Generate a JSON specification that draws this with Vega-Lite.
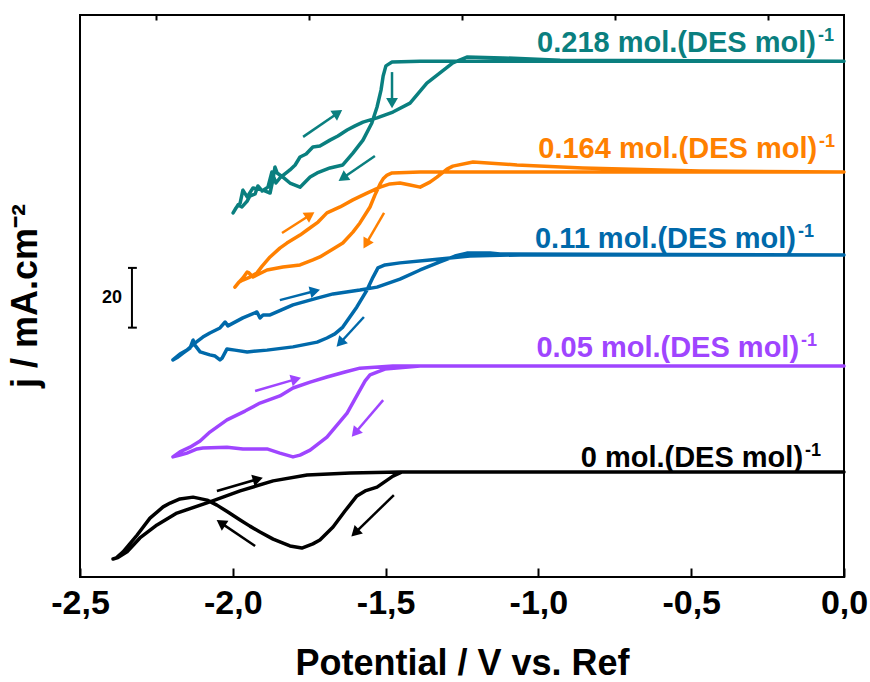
{
  "$schema": "https://vega.github.io/schema/vega-lite/v6.json",
  "width": 764,
  "height": 562,
  "autosize": {"type": "none"},
  "padding": {"left": 80, "top": 15, "right": 26, "bottom": 105},
  "background": "white",
  "config": {
    "view": {"stroke": "#000000", "strokeWidth": 2},
    "font": "Liberation Sans"
  },
  "title": {
    "text": "j / mA.cm⁻²",
    "orient": "left",
    "anchor": "middle",
    "frame": "group",
    "offset": 6,
    "font": "Liberation Sans",
    "fontWeight": "bold",
    "fontSize": 36,
    "color": "#000000"
  },
  "datasets": {
    "curves": [
      {"s": "0", "V": 0, "j": 35.5}, {"s": "0", "V": -0.798, "j": 35.5}, {"s": "0", "V": -1.289, "j": 35.5}, {"s": "0", "V": -1.446, "j": 35.5},
      {"s": "0", "V": -1.476, "j": 34.1}, {"s": "0", "V": -1.528, "j": 30.4}, {"s": "0", "V": -1.567, "j": 29.1}, {"s": "0", "V": -1.594, "j": 27.4},
      {"s": "0", "V": -1.633, "j": 22.3}, {"s": "0", "V": -1.672, "j": 16.9}, {"s": "0", "V": -1.715, "j": 12.5}, {"s": "0", "V": -1.738, "j": 11.2},
      {"s": "0", "V": -1.774, "j": 9.8}, {"s": "0", "V": -1.813, "j": 10.5}, {"s": "0", "V": -1.868, "j": 12.8}, {"s": "0", "V": -1.911, "j": 15.2},
      {"s": "0", "V": -1.944, "j": 17.2}, {"s": "0", "V": -1.976, "j": 19.3}, {"s": "0", "V": -2.016, "j": 22.0}, {"s": "0", "V": -2.052, "j": 24.3},
      {"s": "0", "V": -2.084, "j": 26.0}, {"s": "0", "V": -2.13, "j": 27.0}, {"s": "0", "V": -2.173, "j": 26.4}, {"s": "0", "V": -2.205, "j": 25.0},
      {"s": "0", "V": -2.228, "j": 23.7}, {"s": "0", "V": -2.271, "j": 19.9}, {"s": "0", "V": -2.313, "j": 14.2}, {"s": "0", "V": -2.359, "j": 8.5},
      {"s": "0", "V": -2.382, "j": 6.4}, {"s": "0", "V": -2.392, "j": 6.1}, {"s": "0", "V": -2.376, "j": 6.6}, {"s": "0", "V": -2.346, "j": 8.5},
      {"s": "0", "V": -2.304, "j": 13.2}, {"s": "0", "V": -2.248, "j": 17.6}, {"s": "0", "V": -2.183, "j": 21.6}, {"s": "0", "V": -2.075, "j": 25.4},
      {"s": "0", "V": -1.976, "j": 29.1}, {"s": "0", "V": -1.868, "j": 32.5}, {"s": "0", "V": -1.757, "j": 34.5}, {"s": "0", "V": -1.616, "j": 35.2},
      {"s": "0", "V": -1.453, "j": 35.5}, {"s": "0", "V": 0, "j": 35.5},

      {"s": "0.05", "V": 0, "j": 71.3}, {"s": "0.05", "V": -1.387, "j": 71.3}, {"s": "0.05", "V": -1.502, "j": 70.3}, {"s": "0.05", "V": -1.528, "j": 69.3},
      {"s": "0.05", "V": -1.551, "j": 68.3}, {"s": "0.05", "V": -1.567, "j": 66.3}, {"s": "0.05", "V": -1.584, "j": 63.2}, {"s": "0.05", "V": -1.626, "j": 55.4},
      {"s": "0.05", "V": -1.692, "j": 47.3}, {"s": "0.05", "V": -1.747, "j": 42.9}, {"s": "0.05", "V": -1.78, "j": 41.2}, {"s": "0.05", "V": -1.803, "j": 40.6},
      {"s": "0.05", "V": -1.846, "j": 41.9}, {"s": "0.05", "V": -1.888, "j": 43.3}, {"s": "0.05", "V": -1.967, "j": 43.3}, {"s": "0.05", "V": -2.019, "j": 43.9},
      {"s": "0.05", "V": -2.098, "j": 43.6}, {"s": "0.05", "V": -2.117, "j": 43.3}, {"s": "0.05", "V": -2.15, "j": 41.9}, {"s": "0.05", "V": -2.173, "j": 41.2},
      {"s": "0.05", "V": -2.196, "j": 40.6}, {"s": "0.05", "V": -2.173, "j": 42.3}, {"s": "0.05", "V": -2.14, "j": 43.9}, {"s": "0.05", "V": -2.107, "j": 46.0},
      {"s": "0.05", "V": -2.075, "j": 49.0}, {"s": "0.05", "V": -2.019, "j": 53.1}, {"s": "0.05", "V": -1.96, "j": 56.1}, {"s": "0.05", "V": -1.911, "j": 58.8},
      {"s": "0.05", "V": -1.846, "j": 61.2}, {"s": "0.05", "V": -1.803, "j": 63.9}, {"s": "0.05", "V": -1.747, "j": 65.9}, {"s": "0.05", "V": -1.692, "j": 67.6},
      {"s": "0.05", "V": -1.633, "j": 69.3}, {"s": "0.05", "V": -1.584, "j": 70.6}, {"s": "0.05", "V": -1.476, "j": 71.3}, {"s": "0.05", "V": 0, "j": 71.3},

      {"s": "0.11", "V": 0, "j": 108.9}, {"s": "0.11", "V": -1.06, "j": 108.9}, {"s": "0.11", "V": -1.224, "j": 108.5}, {"s": "0.11", "V": -1.355, "j": 107.2},
      {"s": "0.11", "V": -1.453, "j": 106.2}, {"s": "0.11", "V": -1.502, "j": 105.5}, {"s": "0.11", "V": -1.525, "j": 104.5}, {"s": "0.11", "V": -1.541, "j": 101.4},
      {"s": "0.11", "V": -1.561, "j": 97.0}, {"s": "0.11", "V": -1.594, "j": 91.3}, {"s": "0.11", "V": -1.64, "j": 84.5}, {"s": "0.11", "V": -1.666, "j": 82.2},
      {"s": "0.11", "V": -1.692, "j": 80.8}, {"s": "0.11", "V": -1.724, "j": 79.4}, {"s": "0.11", "V": -1.803, "j": 77.8}, {"s": "0.11", "V": -1.888, "j": 76.7},
      {"s": "0.11", "V": -1.953, "j": 76.1}, {"s": "0.11", "V": -1.993, "j": 76.7}, {"s": "0.11", "V": -2.019, "j": 77.1}, {"s": "0.11", "V": -2.035, "j": 74.0},
      {"s": "0.11", "V": -2.042, "j": 73.4}, {"s": "0.11", "V": -2.058, "j": 74.7}, {"s": "0.11", "V": -2.075, "j": 75.1}, {"s": "0.11", "V": -2.107, "j": 76.1},
      {"s": "0.11", "V": -2.124, "j": 78.4}, {"s": "0.11", "V": -2.13, "j": 80.1}, {"s": "0.11", "V": -2.14, "j": 77.4}, {"s": "0.11", "V": -2.163, "j": 75.7},
      {"s": "0.11", "V": -2.179, "j": 74.4}, {"s": "0.11", "V": -2.196, "j": 73.4}, {"s": "0.11", "V": -2.173, "j": 75.4}, {"s": "0.11", "V": -2.15, "j": 76.7},
      {"s": "0.11", "V": -2.124, "j": 79.1}, {"s": "0.11", "V": -2.098, "j": 81.1}, {"s": "0.11", "V": -2.075, "j": 82.5}, {"s": "0.11", "V": -2.042, "j": 84.2},
      {"s": "0.11", "V": -2.025, "j": 86.2}, {"s": "0.11", "V": -2.016, "j": 84.9}, {"s": "0.11", "V": -1.967, "j": 87.6}, {"s": "0.11", "V": -1.921, "j": 89.6},
      {"s": "0.11", "V": -1.911, "j": 87.6}, {"s": "0.11", "V": -1.901, "j": 88.6}, {"s": "0.11", "V": -1.878, "j": 88.6}, {"s": "0.11", "V": -1.803, "j": 92.0},
      {"s": "0.11", "V": -1.724, "j": 94.3}, {"s": "0.11", "V": -1.672, "j": 95.7}, {"s": "0.11", "V": -1.584, "j": 97.0}, {"s": "0.11", "V": -1.528, "j": 98.0},
      {"s": "0.11", "V": -1.453, "j": 100.7}, {"s": "0.11", "V": -1.387, "j": 103.8}, {"s": "0.11", "V": -1.322, "j": 106.5}, {"s": "0.11", "V": -1.273, "j": 108.5},
      {"s": "0.11", "V": -1.234, "j": 109.5}, {"s": "0.11", "V": -1.158, "j": 109.5}, {"s": "0.11", "V": -1.126, "j": 109.2}, {"s": "0.11", "V": 0, "j": 108.9},

      {"s": "0.164", "V": 0, "j": 136.9}, {"s": "0.164", "V": -0.798, "j": 136.9}, {"s": "0.164", "V": -1.387, "j": 136.9}, {"s": "0.164", "V": -1.479, "j": 136.6},
      {"s": "0.164", "V": -1.495, "j": 135.9}, {"s": "0.164", "V": -1.508, "j": 134.6}, {"s": "0.164", "V": -1.518, "j": 132.9}, {"s": "0.164", "V": -1.535, "j": 129.1},
      {"s": "0.164", "V": -1.551, "j": 125.1}, {"s": "0.164", "V": -1.584, "j": 119.7}, {"s": "0.164", "V": -1.607, "j": 116.6}, {"s": "0.164", "V": -1.64, "j": 112.9},
      {"s": "0.164", "V": -1.672, "j": 110.9}, {"s": "0.164", "V": -1.715, "j": 108.2}, {"s": "0.164", "V": -1.738, "j": 107.2}, {"s": "0.164", "V": -1.78, "j": 105.5},
      {"s": "0.164", "V": -1.836, "j": 104.8}, {"s": "0.164", "V": -1.888, "j": 103.8}, {"s": "0.164", "V": -1.921, "j": 102.1}, {"s": "0.164", "V": -1.934, "j": 101.4},
      {"s": "0.164", "V": -1.947, "j": 102.8}, {"s": "0.164", "V": -1.953, "j": 103.1}, {"s": "0.164", "V": -1.967, "j": 101.1}, {"s": "0.164", "V": -1.976, "j": 100.1},
      {"s": "0.164", "V": -1.993, "j": 98.0}, {"s": "0.164", "V": -1.98, "j": 99.7}, {"s": "0.164", "V": -1.967, "j": 100.4}, {"s": "0.164", "V": -1.944, "j": 101.4},
      {"s": "0.164", "V": -1.921, "j": 102.8}, {"s": "0.164", "V": -1.904, "j": 105.1}, {"s": "0.164", "V": -1.878, "j": 108.2}, {"s": "0.164", "V": -1.846, "j": 111.2},
      {"s": "0.164", "V": -1.823, "j": 112.9}, {"s": "0.164", "V": -1.78, "j": 115.6}, {"s": "0.164", "V": -1.757, "j": 117.3}, {"s": "0.164", "V": -1.721, "j": 120.0},
      {"s": "0.164", "V": -1.692, "j": 123.1}, {"s": "0.164", "V": -1.649, "j": 125.1}, {"s": "0.164", "V": -1.607, "j": 127.5}, {"s": "0.164", "V": -1.561, "j": 129.8},
      {"s": "0.164", "V": -1.518, "j": 131.8}, {"s": "0.164", "V": -1.486, "j": 132.9}, {"s": "0.164", "V": -1.453, "j": 133.2}, {"s": "0.164", "V": -1.42, "j": 132.5},
      {"s": "0.164", "V": -1.387, "j": 131.8}, {"s": "0.164", "V": -1.355, "j": 133.5}, {"s": "0.164", "V": -1.332, "j": 135.2}, {"s": "0.164", "V": -1.299, "j": 137.9},
      {"s": "0.164", "V": -1.28, "j": 138.9}, {"s": "0.164", "V": -1.214, "j": 140.3}, {"s": "0.164", "V": -1.07, "j": 139.3}, {"s": "0.164", "V": -0.854, "j": 138.3},
      {"s": "0.164", "V": -0.471, "j": 137.3}, {"s": "0.164", "V": 0, "j": 136.9},

      {"s": "0.218", "V": 0, "j": 174.4}, {"s": "0.218", "V": -0.798, "j": 174.4}, {"s": "0.218", "V": -1.387, "j": 174.4}, {"s": "0.218", "V": -1.479, "j": 174.1},
      {"s": "0.218", "V": -1.499, "j": 172.8}, {"s": "0.218", "V": -1.508, "j": 169.4}, {"s": "0.218", "V": -1.515, "j": 164.6}, {"s": "0.218", "V": -1.528, "j": 158.9},
      {"s": "0.218", "V": -1.545, "j": 153.5}, {"s": "0.218", "V": -1.574, "j": 147.7}, {"s": "0.218", "V": -1.607, "j": 143.3}, {"s": "0.218", "V": -1.64, "j": 139.3},
      {"s": "0.218", "V": -1.682, "j": 138.3}, {"s": "0.218", "V": -1.724, "j": 136.6}, {"s": "0.218", "V": -1.747, "j": 135.2}, {"s": "0.218", "V": -1.78, "j": 131.8},
      {"s": "0.218", "V": -1.813, "j": 133.2}, {"s": "0.218", "V": -1.836, "j": 135.2}, {"s": "0.218", "V": -1.855, "j": 136.6}, {"s": "0.218", "V": -1.862, "j": 138.6},
      {"s": "0.218", "V": -1.869, "j": 134.2}, {"s": "0.218", "V": -1.878, "j": 129.8}, {"s": "0.218", "V": -1.901, "j": 130.8}, {"s": "0.218", "V": -1.934, "j": 131.5},
      {"s": "0.218", "V": -1.953, "j": 128.5}, {"s": "0.218", "V": -1.967, "j": 130.8}, {"s": "0.218", "V": -1.976, "j": 126.4}, {"s": "0.218", "V": -1.99, "j": 124.7},
      {"s": "0.218", "V": -1.999, "j": 123.1}, {"s": "0.218", "V": -1.983, "j": 125.8}, {"s": "0.218", "V": -1.97, "j": 125.1}, {"s": "0.218", "V": -1.953, "j": 127.1},
      {"s": "0.218", "V": -1.944, "j": 128.8}, {"s": "0.218", "V": -1.927, "j": 129.5}, {"s": "0.218", "V": -1.918, "j": 132.2}, {"s": "0.218", "V": -1.904, "j": 130.5},
      {"s": "0.218", "V": -1.885, "j": 131.8}, {"s": "0.218", "V": -1.872, "j": 136.9}, {"s": "0.218", "V": -1.859, "j": 133.2}, {"s": "0.218", "V": -1.846, "j": 134.9},
      {"s": "0.218", "V": -1.813, "j": 137.6}, {"s": "0.218", "V": -1.796, "j": 139.3}, {"s": "0.218", "V": -1.78, "j": 142.0}, {"s": "0.218", "V": -1.76, "j": 143.0},
      {"s": "0.218", "V": -1.738, "j": 145.4}, {"s": "0.218", "V": -1.715, "j": 145.7}, {"s": "0.218", "V": -1.682, "j": 147.7}, {"s": "0.218", "V": -1.656, "j": 149.1},
      {"s": "0.218", "V": -1.626, "j": 151.1}, {"s": "0.218", "V": -1.6, "j": 152.5}, {"s": "0.218", "V": -1.574, "j": 153.8}, {"s": "0.218", "V": -1.528, "j": 155.2},
      {"s": "0.218", "V": -1.476, "j": 157.2}, {"s": "0.218", "V": -1.42, "j": 160.2}, {"s": "0.218", "V": -1.365, "j": 167.0}, {"s": "0.218", "V": -1.322, "j": 170.4},
      {"s": "0.218", "V": -1.28, "j": 173.8}, {"s": "0.218", "V": -1.234, "j": 175.8}, {"s": "0.218", "V": -1.116, "j": 175.5}, {"s": "0.218", "V": -0.929, "j": 174.7},
      {"s": "0.218", "V": 0, "j": 174.4}
    ],
    "arrows": [
      {"s": "0.218", "V": -1.77, "j": 148.8, "V2": -1.656, "j2": 156.9, "ang": 326},
      {"s": "0.218", "V": -1.479, "j": 170.7, "V2": -1.479, "j2": 160.2, "ang": 90},
      {"s": "0.218", "V": -1.535, "j": 142.3, "V2": -1.64, "j2": 134.9, "ang": 145.5},
      {"s": "0.164", "V": -1.839, "j": 116.3, "V2": -1.747, "j2": 122.4, "ang": 327},
      {"s": "0.164", "V": -1.505, "j": 123.1, "V2": -1.564, "j2": 112.6, "ang": 120},
      {"s": "0.11", "V": -1.846, "j": 93.6, "V2": -1.731, "j2": 96.7, "ang": 346},
      {"s": "0.11", "V": -1.571, "j": 87.9, "V2": -1.649, "j2": 79.1, "ang": 133},
      {"s": "0.05", "V": -1.927, "j": 62.9, "V2": -1.793, "j2": 66.9, "ang": 344},
      {"s": "0.05", "V": -1.508, "j": 59.8, "V2": -1.6, "j2": 48.7, "ang": 130},
      {"s": "0", "V": -2.052, "j": 29.1, "V2": -1.918, "j2": 33.1, "ang": 344},
      {"s": "0", "V": -1.927, "j": 10.5, "V2": -2.039, "j2": 18.3, "ang": 214},
      {"s": "0", "V": -1.473, "j": 27.7, "V2": -1.6, "j2": 14.9, "ang": 136}
    ],
    "labels": [
      {"s": "0.218", "V": -0.092, "j": 177.5, "text": "0.218 mol.(DES mol)"},
      {"s": "0.164", "V": -0.088, "j": 141.6, "text": "0.164 mol.(DES mol)"},
      {"s": "0.11", "V": -0.157, "j": 111.2, "text": "0.11 mol.(DES mol)"},
      {"s": "0.05", "V": -0.147, "j": 74.4, "text": "0.05 mol.(DES mol)"},
      {"s": "0", "V": -0.134, "j": 37.2, "text": "0 mol.(DES mol)"}
    ],
    "bar": [{"V": -2.33, "j": 84.3, "j2": 104.5}],
    "caps": [{"V": -2.343, "V2": -2.314, "j": 84.3}, {"V": -2.343, "V2": -2.314, "j": 104.5}],
    "barlabel": [{"V": -2.395, "j": 94.4, "text": "20"}]
  },
  "resolve": {"axis": {"x": "independent"}},
  "layer": [
    {
      "data": {"name": "curves"},
      "mark": {"type": "line", "strokeWidth": 3.5, "strokeJoin": "round", "strokeCap": "round"},
      "encoding": {
        "x": {
          "field": "V", "type": "quantitative",
          "scale": {"domain": [-2.5, 0], "nice": false, "zero": false},
          "axis": {
            "title": "Potential / V vs. Ref",
            "values": [-2.5, -2, -1.5, -1, -0.5, 0],
            "labelExpr": "(datum.value < 0 ? '-' : '') + replace(format(abs(datum.value), '.1f'), '.', ',')",
            "domain": false, "grid": false,
            "offset": -9,
            "tickSize": 9, "tickWidth": 2, "tickColor": "#000000",
            "labelFont": "Liberation Sans", "labelFontWeight": "bold", "labelFontSize": 34, "labelColor": "#000000",
            "labelPadding": 9, "labelFlush": false, "labelOverlap": false,
            "titleFont": "Liberation Sans", "titleFontWeight": "bold", "titleFontSize": 36, "titleColor": "#000000",
            "titlePadding": 26
          }
        },
        "y": {
          "field": "j", "type": "quantitative",
          "scale": {"domain": [0, 190], "nice": false, "zero": false},
          "axis": null
        },
        "color": {
          "field": "s", "type": "nominal",
          "scale": {"domain": ["0", "0.05", "0.11", "0.164", "0.218"], "range": ["#000000", "#9F45FF", "#0069AA", "#FF8000", "#0A7F7F"]},
          "legend": null
        },
        "detail": {"field": "s"},
        "order": {"value": null}
      }
    },
    {
      "data": {"name": "arrows"},
      "mark": {"type": "rule", "strokeWidth": 2.5},
      "encoding": {
        "x": {
          "field": "V", "type": "quantitative",
          "axis": {
            "title": null, "values": [-2.25, -1.75, -1.25, -0.75, -0.25],
            "labels": false, "domain": false, "grid": false,
            "offset": -5,
            "tickSize": 5, "tickWidth": 2, "tickColor": "#000000"
          }
        },
        "y": {"field": "j", "type": "quantitative", "axis": null},
        "x2": {"field": "V2"},
        "y2": {"field": "j2"},
        "color": {"field": "s", "type": "nominal", "legend": null}
      }
    },
    {
      "data": {"name": "arrows"},
      "mark": {"type": "point", "shape": "triangle-right", "filled": true, "size": 140, "opacity": 1, "strokeWidth": 0},
      "encoding": {
        "x": {"field": "V2", "type": "quantitative", "axis": null},
        "y": {"field": "j2", "type": "quantitative", "axis": null},
        "angle": {"field": "ang", "type": "quantitative", "scale": null},
        "color": {"field": "s", "type": "nominal", "legend": null}
      }
    },
    {
      "data": {"name": "bar"},
      "mark": {"type": "rule", "strokeWidth": 2, "color": "#000000"},
      "encoding": {
        "x": {"field": "V", "type": "quantitative", "axis": null},
        "y": {"field": "j", "type": "quantitative", "axis": null},
        "y2": {"field": "j2"}
      }
    },
    {
      "data": {"name": "caps"},
      "mark": {"type": "rule", "strokeWidth": 2, "color": "#000000"},
      "encoding": {
        "x": {"field": "V", "type": "quantitative", "axis": null},
        "x2": {"field": "V2"},
        "y": {"field": "j", "type": "quantitative", "axis": null}
      }
    },
    {
      "data": {"name": "barlabel"},
      "mark": {"type": "text", "font": "Liberation Sans", "fontWeight": "bold", "fontSize": 18, "align": "center", "baseline": "middle", "color": "#000000"},
      "encoding": {
        "x": {"field": "V", "type": "quantitative", "axis": null},
        "y": {"field": "j", "type": "quantitative", "axis": null},
        "text": {"field": "text"}
      }
    },
    {
      "data": {"name": "labels"},
      "mark": {"type": "text", "font": "Liberation Sans", "fontWeight": "bold", "fontSize": 29, "align": "right", "baseline": "alphabetic"},
      "encoding": {
        "x": {"field": "V", "type": "quantitative", "axis": null},
        "y": {"field": "j", "type": "quantitative", "axis": null},
        "text": {"field": "text"},
        "color": {"field": "s", "type": "nominal", "legend": null}
      }
    },
    {
      "data": {"name": "labels"},
      "mark": {"type": "text", "font": "Liberation Sans", "fontWeight": "bold", "fontSize": 18, "align": "left", "baseline": "alphabetic", "dx": 2, "dy": -11},
      "encoding": {
        "x": {"field": "V", "type": "quantitative", "axis": null},
        "y": {"field": "j", "type": "quantitative", "axis": null},
        "text": {"value": "-1"},
        "color": {"field": "s", "type": "nominal", "legend": null}
      }
    }
  ]
}
